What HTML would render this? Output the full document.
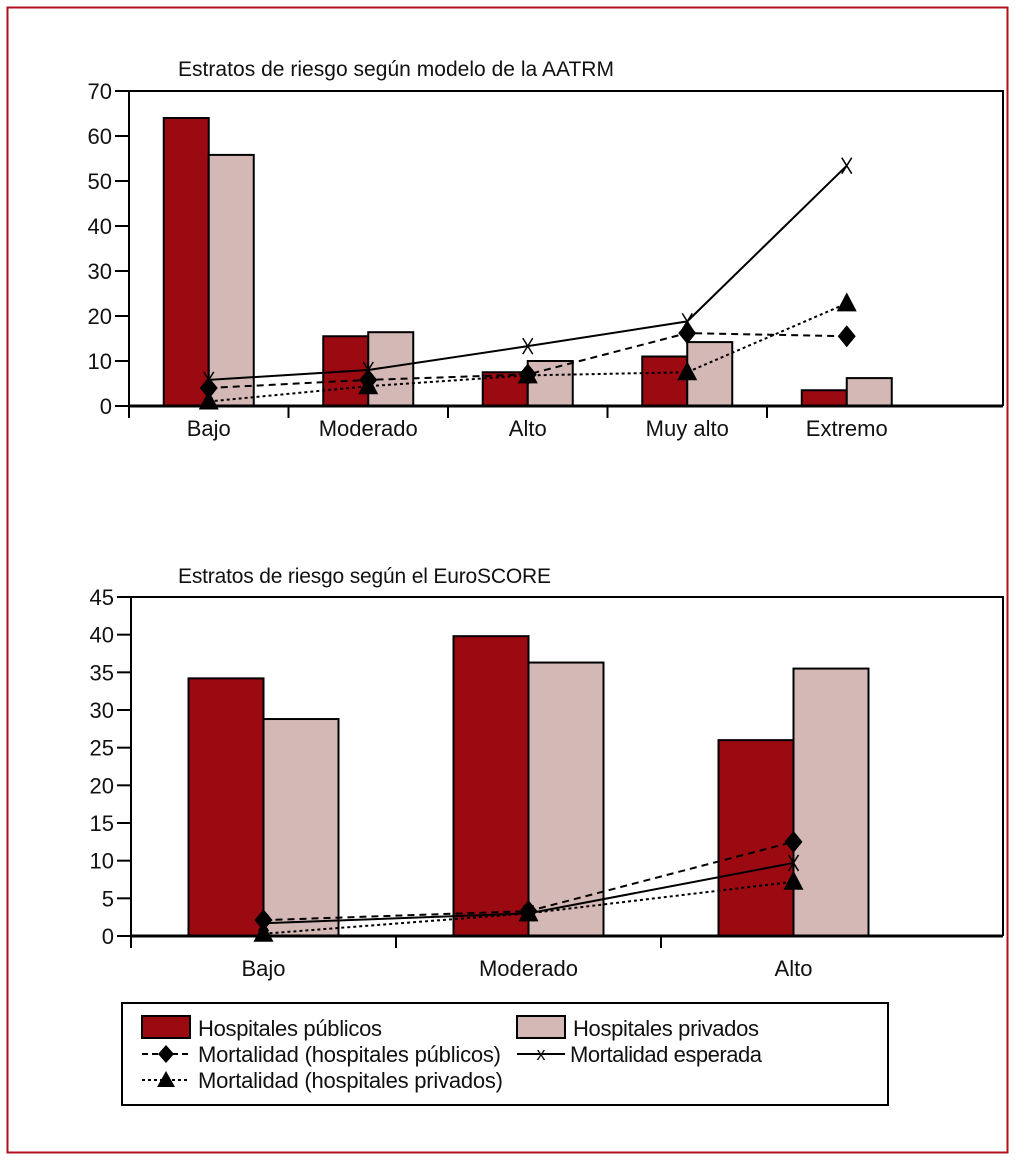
<!DOCTYPE html>
<html><head><meta charset="utf-8"><style>
body{margin:0;background:#fff}
svg{display:block}
text{font-family:"Liberation Sans Narrow","Liberation Sans",sans-serif;fill:#111}
</style></head><body>
<svg id="svg" width="1017" height="1161" xmlns="http://www.w3.org/2000/svg">
<rect x="7.5" y="7.5" width="1000" height="1145" fill="#fff" stroke="#b0101a" stroke-width="2"/>
<g id="top"></g>
<g id="bot"></g>
<g>
<rect x="122" y="1003" width="766" height="102" fill="#fff" stroke="#000" stroke-width="2"/>
<rect x="142" y="1016" width="48" height="22" fill="#9b0a10" stroke="#000" stroke-width="2"/>
<text x="198" y="1036" font-size="22" textLength="184">Hospitales públicos</text>
<rect x="517" y="1016" width="48" height="22" fill="#d4b8b5" stroke="#000" stroke-width="2"/>
<text x="573" y="1036" font-size="22" textLength="186">Hospitales privados</text>
<line x1="142" y1="1054" x2="190" y2="1054" stroke="#000" stroke-width="2" stroke-dasharray="6,4"/>
<path d="M166 1045 L174 1054 L166 1063 L158 1054Z" fill="#000"/>
<text x="198" y="1062" font-size="22" textLength="303">Mortalidad (hospitales públicos)</text>
<line x1="517" y1="1054" x2="565" y2="1054" stroke="#000" stroke-width="2"/>
<text x="541" y="1060" font-size="18" text-anchor="middle">x</text>
<text x="570" y="1062" font-size="22" textLength="192">Mortalidad esperada</text>
<line x1="142" y1="1080" x2="190" y2="1080" stroke="#000" stroke-width="2" stroke-dasharray="3,3"/>
<path d="M166 1071 L175 1087 L157 1087Z" fill="#000"/>
<text x="198" y="1088" font-size="22" textLength="305">Mortalidad (hospitales privados)</text>
</g>
</svg>
<script>
const NS="http://www.w3.org/2000/svg";
const topCats=["Bajo","Moderado","Alto","Muy alto","Extremo"];
const topPublic=[64,15.5,7.5,11,3.5];
const topPrivate=[55.8,16.4,10,14.2,6.2];
const topExpected=[5.8,8,13.3,18.8,53.4];
const topMortPublic=[4,5.8,7,16.2,15.5];
const topMortPrivate=[1,4.4,6.8,7.5,22.8];
const topTicks=[0,10,20,30,40,50,60,70];
const botCats=["Bajo","Moderado","Alto"];
const botPublic=[34.2,39.8,26];
const botPrivate=[28.8,36.3,35.5];
const botExpected=[1.7,3.0,9.7];
const botMortPublic=[2.1,3.3,12.5];
const botMortPrivate=[0.3,3.0,7.2];
const botTicks=[0,5,10,15,20,25,30,35,40,45];

function el(tag,attrs,parent){const e=document.createElementNS(NS,tag);for(const k in attrs)e.setAttribute(k,attrs[k]);parent.appendChild(e);return e;}

function draw(g,cfg){
  const {x0,x1,y0,y1,max,band,barW,cats,pub,priv,exp,mpub,mpriv,ticks,title,titleX,titleY,titleLen,labOff}=cfg;
  const Y=v=>y0-(v/max)*(y0-y1);
  const C=i=>x0+band*(i+0.5);
  const t=el('text',{x:titleX,y:titleY,'font-size':21,textLength:titleLen},g);t.textContent=title;
  
  
  const fr=el('path',{d:`M${x0} ${y1} H${x1} V${y0}`,fill:'none',stroke:'#000','stroke-width':2},g);
  
  
  ticks.forEach(v=>{
    const l=el('line',{x1:x0-14,x2:x0,y1:Y(v),y2:Y(v),stroke:'#000','stroke-width':2},g);
    
    
    const tx=el('text',{x:x0-17,y:Y(v)+8,'font-size':22,'text-anchor':'end'},g);tx.textContent=v;
    
    
  });
  cats.forEach((c,i)=>{
    const cx=C(i);
    const r1=el('rect',{x:cx-barW,y:Y(pub[i]),width:barW,height:y0-Y(pub[i]),fill:'#9b0a10',stroke:'#000','stroke-width':2},g);
    
    
    const r2=el('rect',{x:cx,y:Y(priv[i]),width:barW,height:y0-Y(priv[i]),fill:'#d4b8b5',stroke:'#000','stroke-width':2},g);
    
    
    const tk=el('line',{x1:x0+band*i,x2:x0+band*i,y1:y0,y2:y0+12,stroke:'#000','stroke-width':2},g);
    
    
    const lb=el('text',{x:cx,y:y0+labOff,'font-size':22,'text-anchor':'middle'},g);lb.textContent=c;
    
    
  });
  const ax=el('line',{x1:x0,x2:x1,y1:y0,y2:y0,stroke:'#000','stroke-width':3},g);
  
  
  const ay=el('line',{x1:x0,x2:x0,y1:y1,y2:y0+12,stroke:'#000','stroke-width':2},g);
  
  
  const pts=a=>a.map((v,i)=>C(i)+','+Y(v)).join(' ');
  const le=el('polyline',{points:pts(exp),fill:'none',stroke:'#000','stroke-width':2},g);
  
  
  const lp=el('polyline',{points:pts(mpub),fill:'none',stroke:'#000','stroke-width':2,'stroke-dasharray':'7,5'},g);
  
  
  const lq=el('polyline',{points:pts(mpriv),fill:'none',stroke:'#000','stroke-width':2,'stroke-dasharray':'3,3'},g);
  
  
  cats.forEach((c,i)=>{
    const cx=C(i);
    let y=Y(exp[i]);
    const xm=el('path',{d:`M${cx-5} ${y-8} L${cx+5} ${y+8} M${cx+5} ${y-8} L${cx-5} ${y+8}`,stroke:'#000','stroke-width':1.5,fill:'none'},g);
    
    
    y=Y(mpub[i]);
    const d=el('path',{d:`M${cx} ${y-11} L${cx+9} ${y} L${cx} ${y+11} L${cx-9} ${y}Z`,fill:'#000'},g);
    
    
    y=Y(mpriv[i]);
    const tr=el('path',{d:`M${cx} ${y-11} L${cx+10} ${y+8} L${cx-10} ${y+8}Z`,fill:'#000'},g);
    
    
  });
}
draw(document.getElementById('top'),{x0:129,x1:1003,y0:406,y1:91,max:70,band:159.5,barW:45,cats:topCats,pub:topPublic,priv:topPrivate,exp:topExpected,mpub:topMortPublic,mpriv:topMortPrivate,ticks:topTicks,title:"Estratos de riesgo según modelo de la AATRM",titleX:178,titleY:76,titleLen:436,labOff:30});
draw(document.getElementById('bot'),{x0:131,x1:1003,y0:936,y1:597,max:45,band:265,barW:75,cats:botCats,pub:botPublic,priv:botPrivate,exp:botExpected,mpub:botMortPublic,mpriv:botMortPrivate,ticks:botTicks,title:"Estratos de riesgo según el EuroSCORE",titleX:178,titleY:583,titleLen:373,labOff:40});
</script>
</body></html>
